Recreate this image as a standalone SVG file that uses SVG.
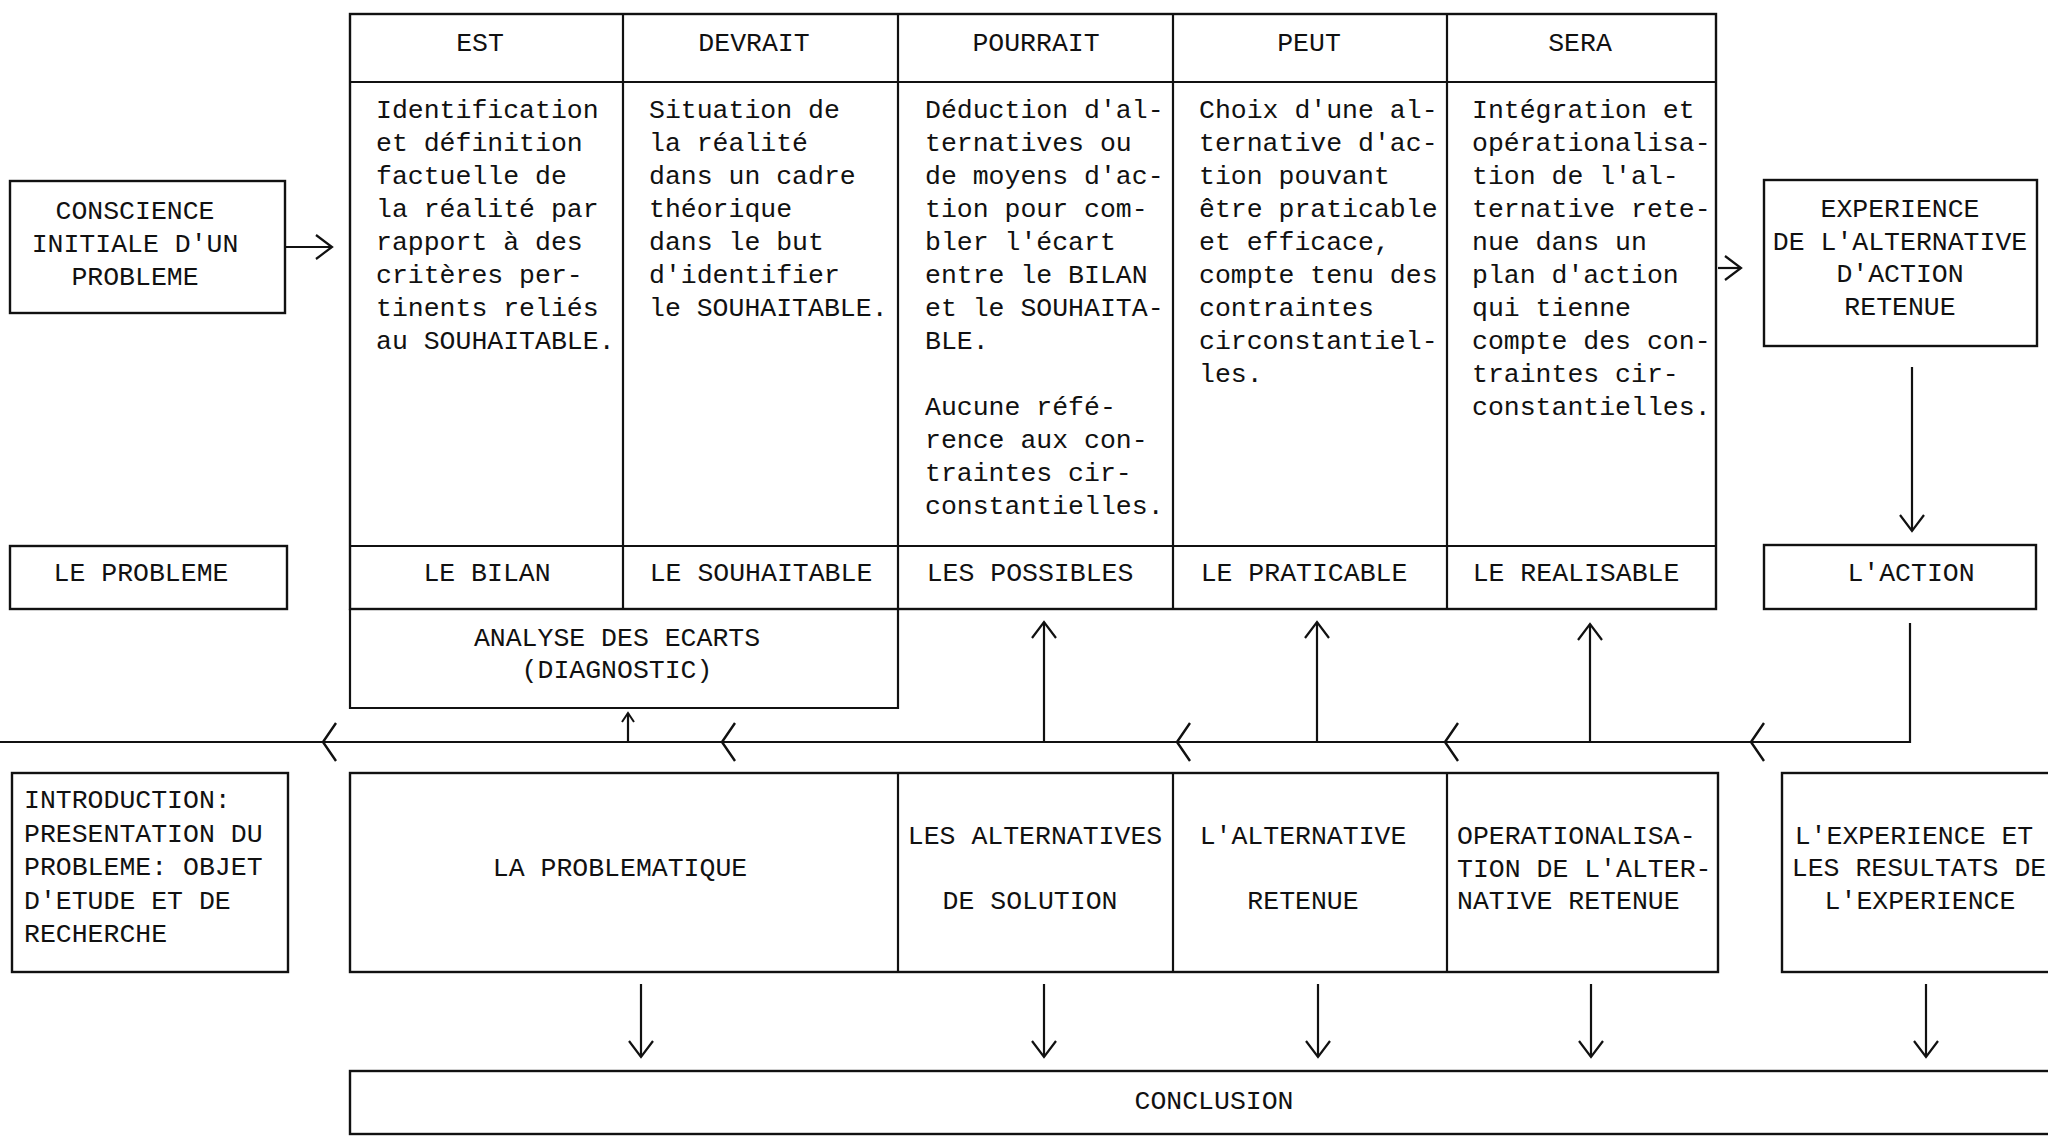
<svg xmlns="http://www.w3.org/2000/svg" width="2048" height="1137" viewBox="0 0 2048 1137">
<defs>
<style>
text{font-family:"Liberation Mono","DejaVu Sans Mono",monospace;font-size:26.5px;fill:#111}
.c{text-anchor:middle}
.box{fill:none;stroke:#111;stroke-width:2.4}
.ln{fill:none;stroke:#111;stroke-width:2.2}
.arr{fill:none;stroke:#111;stroke-width:2.2;marker-end:url(#open)}
.sarr{fill:none;stroke:#111;stroke-width:2.2;marker-end:url(#small)}
.chev{fill:none;stroke:#111;stroke-width:2.4;stroke-linejoin:round}
</style>
<marker id="open" markerUnits="userSpaceOnUse" viewBox="-20 -20 40 40" markerWidth="40" markerHeight="40" refX="0" refY="0" orient="auto">
<path d="M-16,-12 L0,0 L-16,12" fill="none" stroke="#111" stroke-width="2.2"/>
</marker>
<marker id="small" markerUnits="userSpaceOnUse" viewBox="-20 -20 40 40" markerWidth="40" markerHeight="40" refX="0" refY="0" orient="auto">
<path d="M-9,-6 L0,0 L-9,6" fill="none" stroke="#111" stroke-width="2"/>
</marker>
</defs>
<rect width="2048" height="1137" fill="#fff"/>

<g id="table">
<rect class="box" x="350" y="14" width="1366" height="595"/>
<line class="ln" x1="350" y1="82" x2="1716" y2="82"/>
<line class="ln" x1="350" y1="546" x2="1716" y2="546"/>
<line class="ln" x1="623" y1="14" x2="623" y2="609"/>
<line class="ln" x1="898" y1="14" x2="898" y2="609"/>
<line class="ln" x1="1173" y1="14" x2="1173" y2="609"/>
<line class="ln" x1="1447" y1="14" x2="1447" y2="609"/>
</g>

<g id="col-est">
<text class="c" x="480" y="51">EST</text>
<text x="376" y="118"><tspan x="376">Identification</tspan><tspan x="376" dy="33">et définition</tspan><tspan x="376" dy="33">factuelle de</tspan><tspan x="376" dy="33">la réalité par</tspan><tspan x="376" dy="33">rapport à des</tspan><tspan x="376" dy="33">critères per-</tspan><tspan x="376" dy="33">tinents reliés</tspan><tspan x="376" dy="33">au SOUHAITABLE.</tspan></text>
<text class="c" x="487" y="581">LE BILAN</text>
</g>

<g id="col-devrait">
<text class="c" x="754" y="51">DEVRAIT</text>
<text x="649" y="118"><tspan x="649">Situation de</tspan><tspan x="649" dy="33">la réalité</tspan><tspan x="649" dy="33">dans un cadre</tspan><tspan x="649" dy="33">théorique</tspan><tspan x="649" dy="33">dans le but</tspan><tspan x="649" dy="33">d'identifier</tspan><tspan x="649" dy="33">le SOUHAITABLE.</tspan></text>
<text class="c" x="761" y="581">LE SOUHAITABLE</text>
</g>

<g id="col-pourrait">
<text class="c" x="1036" y="51">POURRAIT</text>
<text x="925" y="118"><tspan x="925">Déduction d'al-</tspan><tspan x="925" dy="33">ternatives ou</tspan><tspan x="925" dy="33">de moyens d'ac-</tspan><tspan x="925" dy="33">tion pour com-</tspan><tspan x="925" dy="33">bler l'écart</tspan><tspan x="925" dy="33">entre le BILAN</tspan><tspan x="925" dy="33">et le SOUHAITA-</tspan><tspan x="925" dy="33">BLE.</tspan><tspan x="925" dy="66">Aucune réfé-</tspan><tspan x="925" dy="33">rence aux con-</tspan><tspan x="925" dy="33">traintes cir-</tspan><tspan x="925" dy="33">constantielles.</tspan></text>
<text class="c" x="1030" y="581">LES POSSIBLES</text>
</g>

<g id="col-peut">
<text class="c" x="1309" y="51">PEUT</text>
<text x="1199" y="118"><tspan x="1199">Choix d'une al-</tspan><tspan x="1199" dy="33">ternative d'ac-</tspan><tspan x="1199" dy="33">tion pouvant</tspan><tspan x="1199" dy="33">être praticable</tspan><tspan x="1199" dy="33">et efficace,</tspan><tspan x="1199" dy="33">compte tenu des</tspan><tspan x="1199" dy="33">contraintes</tspan><tspan x="1199" dy="33">circonstantiel-</tspan><tspan x="1199" dy="33">les.</tspan></text>
<text class="c" x="1304" y="581">LE PRATICABLE</text>
</g>

<g id="col-sera">
<text class="c" x="1580" y="51">SERA</text>
<text x="1472" y="118"><tspan x="1472">Intégration et</tspan><tspan x="1472" dy="33">opérationalisa-</tspan><tspan x="1472" dy="33">tion de l'al-</tspan><tspan x="1472" dy="33">ternative rete-</tspan><tspan x="1472" dy="33">nue dans un</tspan><tspan x="1472" dy="33">plan d'action</tspan><tspan x="1472" dy="33">qui tienne</tspan><tspan x="1472" dy="33">compte des con-</tspan><tspan x="1472" dy="33">traintes cir-</tspan><tspan x="1472" dy="33">constantielles.</tspan></text>
<text class="c" x="1576" y="581">LE REALISABLE</text>
</g>

<g id="analyse">
<polyline class="ln" points="350,609 350,708 898,708 898,609"/>
<text class="c" x="617" y="646">ANALYSE DES ECARTS</text>
<text class="c" x="617" y="678">(DIAGNOSTIC)</text>
</g>

<g id="conscience">
<rect class="box" x="10" y="181" width="275" height="132"/>
<text class="c" x="135" y="219">CONSCIENCE</text>
<text class="c" x="135" y="252">INITIALE D'UN</text>
<text class="c" x="135" y="285">PROBLEME</text>
</g>

<g id="probleme">
<rect class="box" x="10" y="546" width="277" height="63"/>
<text class="c" x="141" y="581">LE PROBLEME</text>
</g>

<g id="experience">
<rect class="box" x="1764" y="180" width="273" height="166"/>
<text class="c" x="1900" y="217">EXPERIENCE</text>
<text class="c" x="1900" y="250">DE L'ALTERNATIVE</text>
<text class="c" x="1900" y="282">D'ACTION</text>
<text class="c" x="1900" y="315">RETENUE</text>
</g>

<g id="action">
<rect class="box" x="1764" y="545" width="272" height="64"/>
<text class="c" x="1911" y="581">L'ACTION</text>
</g>

<g id="introduction">
<rect class="box" x="12" y="773" width="276" height="199"/>
<text x="24" y="808"><tspan x="24">INTRODUCTION:</tspan><tspan x="24" dy="33.5">PRESENTATION DU</tspan><tspan x="24" dy="33.5">PROBLEME: OBJET</tspan><tspan x="24" dy="33.5">D'ETUDE ET DE</tspan><tspan x="24" dy="33.5">RECHERCHE</tspan></text>
</g>

<g id="bottom-row">
<rect class="box" x="350" y="773" width="1368" height="199"/>
<line class="ln" x1="898" y1="773" x2="898" y2="972"/>
<line class="ln" x1="1173" y1="773" x2="1173" y2="972"/>
<line class="ln" x1="1447" y1="773" x2="1447" y2="972"/>
</g>
<g id="problematique">
<text class="c" x="620" y="876">LA PROBLEMATIQUE</text>
</g>
<g id="alternatives">
<text class="c" x="1035" y="844">LES ALTERNATIVES</text>
<text class="c" x="1030" y="909">DE SOLUTION</text>
</g>
<g id="alternative-retenue">
<text class="c" x="1303" y="844">L'ALTERNATIVE</text>
<text class="c" x="1303" y="909">RETENUE</text>
</g>
<g id="operationalisation">
<text x="1457" y="844"><tspan x="1457">OPERATIONALISA-</tspan><tspan x="1457" dy="32.5">TION DE L'ALTER-</tspan><tspan x="1457" dy="32.5">NATIVE RETENUE</tspan></text>
</g>
<g id="experience-resultats">
<rect class="box" x="1782" y="773" width="280" height="199"/>
<text class="c" x="1914" y="844">L'EXPERIENCE ET</text>
<text class="c" x="1919" y="876">LES RESULTATS DE</text>
<text class="c" x="1920" y="909">L'EXPERIENCE</text>
</g>

<g id="conclusion">
<rect class="box" x="350" y="1071" width="1712" height="63"/>
<text class="c" x="1214" y="1109">CONCLUSION</text>
</g>

<g id="connectors">
<line class="arr" x1="286" y1="247" x2="332" y2="247"/>
<line class="arr" x1="1718" y1="268" x2="1741" y2="268"/>
<line class="arr" x1="1912" y1="367" x2="1912" y2="531"/>
<polyline class="ln" points="1910,623 1910,742 0,742"/>
<path class="chev" d="M336,723 L323,742 L336,761"/>
<path class="chev" d="M735,723 L722,742 L735,761"/>
<path class="chev" d="M1190,723 L1177,742 L1190,761"/>
<path class="chev" d="M1458,723 L1445,742 L1458,761"/>
<path class="chev" d="M1764,723 L1751,742 L1764,761"/>
<line class="sarr" x1="628" y1="742" x2="628" y2="713"/>
<line class="arr" x1="1044" y1="742" x2="1044" y2="622"/>
<line class="arr" x1="1317" y1="742" x2="1317" y2="622"/>
<line class="arr" x1="1590" y1="742" x2="1590" y2="624"/>
<line class="arr" x1="641" y1="984" x2="641" y2="1057"/>
<line class="arr" x1="1044" y1="984" x2="1044" y2="1057"/>
<line class="arr" x1="1318" y1="984" x2="1318" y2="1057"/>
<line class="arr" x1="1591" y1="984" x2="1591" y2="1057"/>
<line class="arr" x1="1926" y1="984" x2="1926" y2="1057"/>
</g>
</svg>
